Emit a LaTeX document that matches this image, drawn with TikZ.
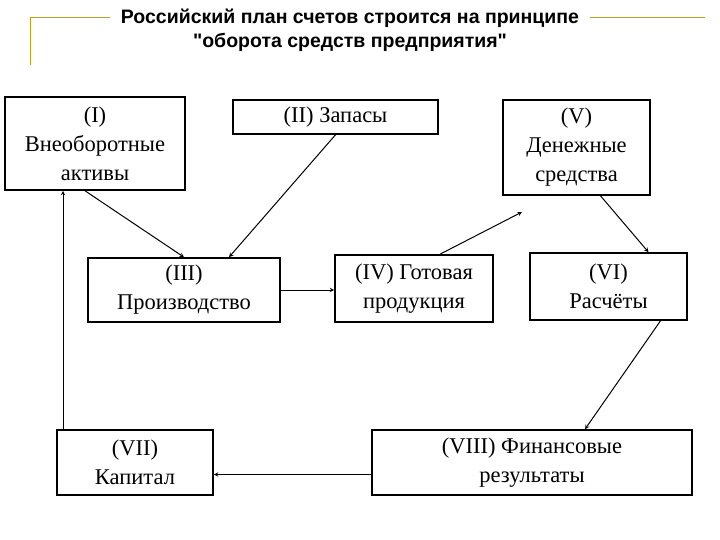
\documentclass[tikz,border=0pt]{standalone}
\usepackage{fontspec}
\setmainfont{Liberation Serif}
\newfontfamily\titlefont{Liberation Sans}
\usetikzlibrary{arrows}
\begin{document}
\begin{tikzpicture}[x=1pt, y=-1pt, > = stealth, % arrow head style
                semithick % line style
            ]

            \tikzstyle{acct}=[draw = black, line width = 1.6pt, rectangle, inner sep = 0pt,
            align = center, font = \fontsize{22.5}{29}\selectfont]
            \tikzstyle{flow}=[->, line width = 1pt]

            \useasboundingbox (0,0) rectangle (720,540);
            \draw[color = {rgb,255:red,190;green,160;blue,40}, thick]
            (30,65) -- (30,17) -- (110,17) (590,17) -- (705,17);
            \node[font = \titlefont\bfseries\fontsize{19.5}{24}\selectfont,
            align = center] (title) at (350,30) {Российский план счетов строится на принципе\\
            "оборота средств предприятия"};

            \node[acct, minimum width = 180, minimum height = 93] (1) at (95,143.5)
            {(I)\\Внеоборотные\\активы};
            \node[acct, minimum width = 205, minimum height = 34] (2) at (335.5,117)
            {(II) Запасы};
            \node[acct, minimum width = 147, minimum height = 95] (5) at (576.5,147.5)
            {(V)\\Денежные\\средства};
            \node[acct, minimum width = 192, minimum height = 64] (3) at (184,290)
            {(III)\\Производство};
            \node[acct, minimum width = 158, minimum height = 67] (4) at (414,288.5)
            {(IV) Готовая\\продукция};
            \node[acct, minimum width = 157, minimum height = 67] (6) at (608.5,286.5)
            {(VI)\\Расчёты};
            \node[acct, minimum width = 156, minimum height = 65] (7) at (135,462.5)
            {(VII)\\Капитал};
            \node[acct, minimum width = 320, minimum height = 65] (8) at (532,462.5)
            {(VIII) Финансовые\\результаты};
            \coordinate (5in) at (522,212);

            \draw[flow] (1.south) ++(-10,0) -- (3.north);
            \draw[flow] (2.south) -- ([xshift = 45]3.north);
            \draw[flow] (3.east) -- (3.east -| 4.west);
            \draw[flow] ([xshift = 26]4.north) -- (5in);
            \draw[flow] ([xshift = 24]5.south) -- ([xshift = 40]6.north);
            \draw[flow] ([xshift = 52]6.south) -- ([xshift = 53]8.north);
            \draw[flow] ([yshift = -12]8.west) -- ([yshift = -12]7.east);
            \draw[flow] ([xshift = -72]7.north) -- ([xshift = -32]1.south);
\end{tikzpicture}
\end{document}
